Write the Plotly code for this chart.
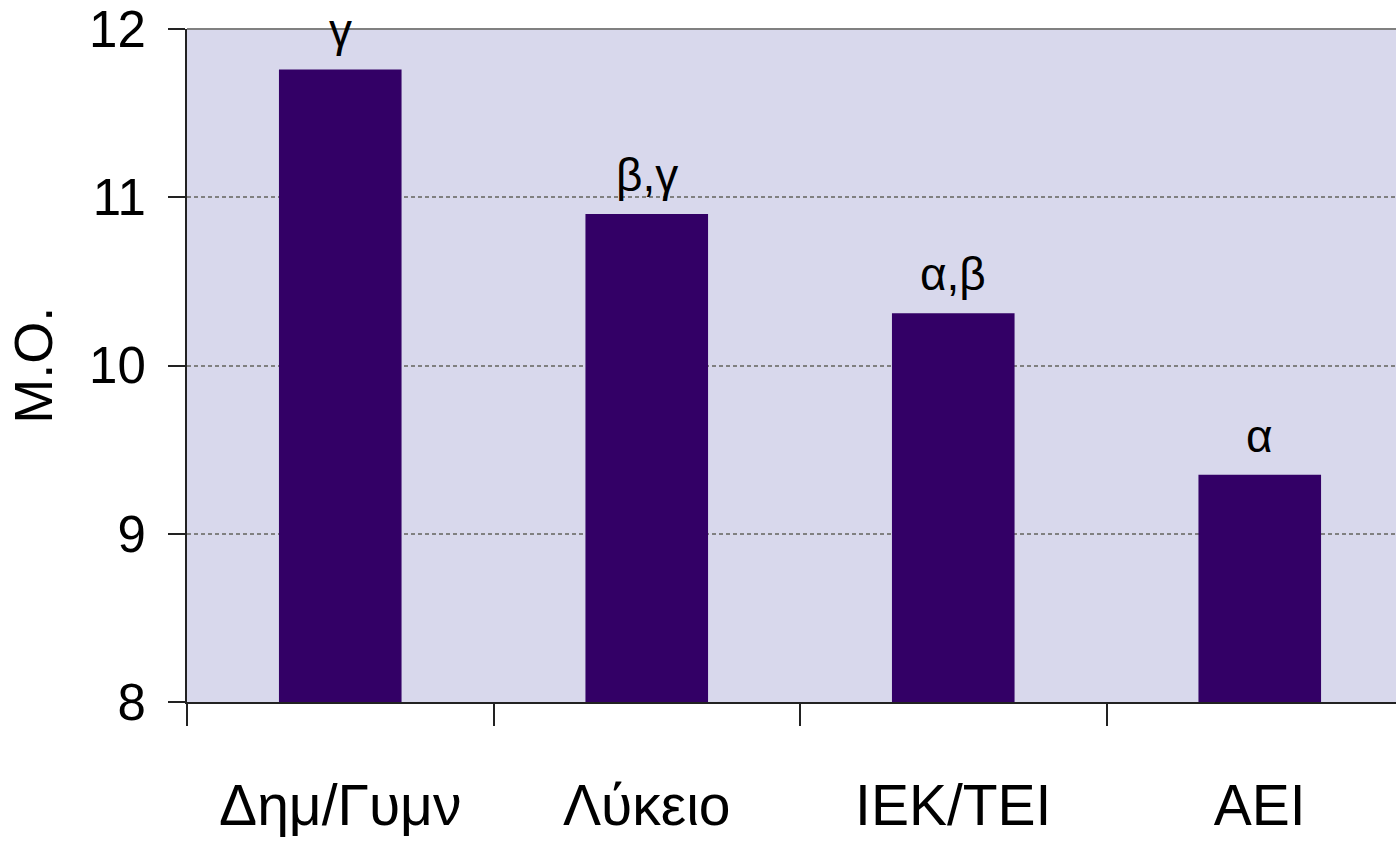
import plotly.graph_objects as go

categories = ["Δημ/Γυμν", "Λύκειο", "IEK/TEI", "AEI"]
means = [11.76, 10.90, 10.31, 9.35]
group_labels = ["γ", "β,γ", "α,β", "α"]
y_ticks = [8, 9, 10, 11, 12]

FONT = "Liberation Sans, Arial, sans-serif"

fig = go.Figure()
fig.add_trace(go.Bar(
    x=categories, y=means,
    marker=dict(color="#330066", line=dict(width=0)),
    hoverinfo="x+y",
))

for c, v, lab in zip(categories, means, group_labels):
    fig.add_annotation(
        x=c, y=v, text=lab, showarrow=False,
        xanchor="center", yanchor="bottom", yshift=11,
        font=dict(family=FONT, size=46, color="#000000"),
    )

fig.add_annotation(
    xref="paper", yref="paper", x=-0.128, y=0.5,
    text="Μ.Ο.", textangle=-90, showarrow=False,
    xanchor="center", yanchor="middle",
    font=dict(family=FONT, size=54, color="#000000"),
)

# top frame line of plot area
fig.add_shape(type="line", xref="paper", yref="paper", x0=0, x1=1, y0=1, y1=1,
              line=dict(color="#808080", width=2))

fig.update_layout(
    width=1396, height=843,
    margin=dict(l=187, r=0, t=29, b=141, pad=0, autoexpand=False),
    paper_bgcolor="#FFFFFF",
    plot_bgcolor="#D8D8EC",
    bargap=0.6,
    showlegend=False,
    font=dict(family=FONT, color="#000000"),
    xaxis=dict(
        type="category",
        range=[-0.5, 3.4445],
        automargin=False,
        tickson="boundaries",
        ticks="outside", ticklen=22, tickwidth=2, tickcolor="#222222",
        showline=True, linecolor="#222222", linewidth=2,
        showgrid=False,
        tickfont=dict(family=FONT, size=57, color="#000000"),
        ticklabelstandoff=53,
    ),
    yaxis=dict(
        range=[8, 12],
        tickvals=y_ticks,
        automargin=False,
        ticks="outside", ticklen=17, tickwidth=2, tickcolor="#222222",
        showline=True, linecolor="#222222", linewidth=2,
        showgrid=True, gridcolor="#808080", gridwidth=1.5, griddash="4px,3px",
        zeroline=False,
        tickfont=dict(family=FONT, size=51, color="#000000"),
        ticklabelstandoff=12,
    ),
)

fig.write_html(
    "out.html",
    config={"displayModeBar": False},
    post_script="document.body.style.margin='0';document.body.style.overflow='hidden';",
)
